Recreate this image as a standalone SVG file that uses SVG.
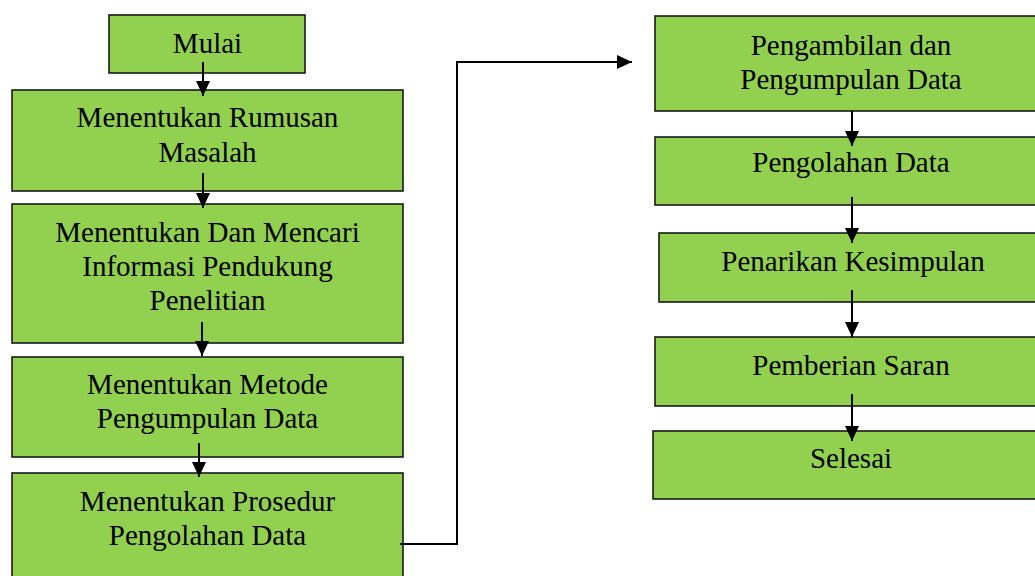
<svg xmlns="http://www.w3.org/2000/svg" width="1035" height="576" viewBox="0 0 1035 576">
<style>
.box{fill:#92D050;stroke:#1a1a1a;stroke-width:1.6}
.t{font-family:"Liberation Serif","Times New Roman",serif;font-size:29px;fill:#000;text-anchor:middle}
.c{fill:none;stroke:#000;stroke-width:2}
</style>
<defs>
<marker id="ah" markerUnits="userSpaceOnUse" markerWidth="15" markerHeight="14" refX="15" refY="7" orient="auto">
<path d="M0,0 L15,7 L0,14 z" fill="#000"/>
</marker>
</defs>
<rect width="1035" height="576" fill="#fff"/>
<g id="n1"><rect class="box" x="109" y="15" width="196" height="58"/><text class="t" x="207.5" y="53">Mulai</text></g>
<g id="n2"><rect class="box" x="12" y="90" width="391" height="101"/><text class="t" x="207.5" y="127">Menentukan Rumusan</text><text class="t" x="207.5" y="162">Masalah</text></g>
<g id="n3"><rect class="box" x="12" y="204" width="391" height="139"/><text class="t" x="207.5" y="242">Menentukan Dan Mencari</text><text class="t" x="207.5" y="276">Informasi Pendukung</text><text class="t" x="207.5" y="310">Penelitian</text></g>
<g id="n4"><rect class="box" x="12" y="357" width="391" height="100"/><text class="t" x="207.5" y="394">Menentukan Metode</text><text class="t" x="207.5" y="428">Pengumpulan Data</text></g>
<g id="n5"><rect class="box" x="12" y="473" width="391" height="120"/><text class="t" x="207.5" y="511">Menentukan Prosedur</text><text class="t" x="207.5" y="545">Pengolahan Data</text></g>
<g id="r1"><rect class="box" x="655" y="16" width="394" height="95"/><text class="t" x="851" y="55">Pengambilan dan</text><text class="t" x="851" y="89">Pengumpulan Data</text></g>
<g id="r2"><rect class="box" x="655" y="137" width="394" height="68"/><text class="t" x="851" y="172">Pengolahan Data</text></g>
<g id="r3"><rect class="box" x="659" y="233" width="390" height="69"/><text class="t" x="853" y="271">Penarikan Kesimpulan</text></g>
<g id="r4"><rect class="box" x="655" y="337" width="394" height="69"/><text class="t" x="851" y="375">Pemberian Saran</text></g>
<g id="r5"><rect class="box" x="653" y="431" width="396" height="68"/><text class="t" x="851" y="468">Selesai</text></g>
<g id="connectors">
<line class="c" x1="203" y1="62" x2="203" y2="96" marker-end="url(#ah)"/>
<line class="c" x1="203" y1="173" x2="203" y2="208" marker-end="url(#ah)"/>
<line class="c" x1="202" y1="322" x2="202" y2="356" marker-end="url(#ah)"/>
<line class="c" x1="199" y1="443" x2="199" y2="477" marker-end="url(#ah)"/>
<polyline class="c" points="400,544 457,544 457,62 632,62" marker-end="url(#ah)"/>
<line class="c" x1="852" y1="111" x2="852" y2="146" marker-end="url(#ah)"/>
<line class="c" x1="852" y1="197" x2="852" y2="243" marker-end="url(#ah)"/>
<line class="c" x1="852" y1="290" x2="852" y2="337" marker-end="url(#ah)"/>
<line class="c" x1="852" y1="394" x2="852" y2="441" marker-end="url(#ah)"/>
</g>
</svg>
